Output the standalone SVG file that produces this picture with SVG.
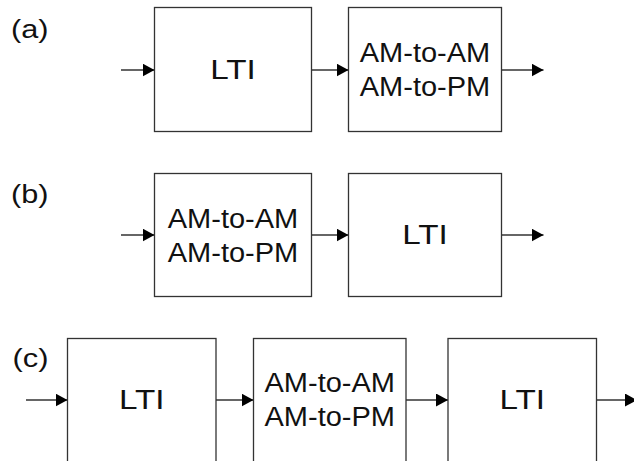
<svg xmlns="http://www.w3.org/2000/svg" width="634" height="461" viewBox="0 0 634 461">
  <defs>
    <marker id="arrow" markerUnits="userSpaceOnUse" markerWidth="13" markerHeight="14" refX="12" refY="6.5" orient="auto">
      <path d="M0,0 L12,6.5 L0,13 Z" fill="#000"/>
    </marker>
    <style>
      .box { fill: #fff; stroke: #333; stroke-width: 1.3; }
      .conn { fill: none; stroke: #333; stroke-width: 1.3; marker-end: url(#arrow); }
      .t { font-family: "Liberation Sans", Arial, sans-serif; font-size: 27px; fill: #111; text-anchor: middle; }
      .lbl { font-family: "Liberation Sans", Arial, sans-serif; font-size: 25px; fill: #111; }
    </style>
  </defs>
  <rect width="634" height="461" fill="#fff"/>

  <g id="labels">
    <text class="lbl" x="11" y="37.7" textLength="37.5" lengthAdjust="spacingAndGlyphs">(a)</text>
    <text class="lbl" x="11" y="202.7" textLength="37.5" lengthAdjust="spacingAndGlyphs">(b)</text>
    <text class="lbl" x="12.5" y="367" textLength="36" lengthAdjust="spacingAndGlyphs">(c)</text>
  </g>

  <g id="connectors">
    <line class="conn" x1="121" y1="70" x2="154.5" y2="70"/>
    <line class="conn" x1="311.5" y1="70" x2="348.5" y2="70"/>
    <line class="conn" x1="501.5" y1="70" x2="543.5" y2="70"/>

    <line class="conn" x1="121" y1="235" x2="154.5" y2="235"/>
    <line class="conn" x1="311.5" y1="235" x2="348.5" y2="235"/>
    <line class="conn" x1="501.5" y1="235" x2="543.5" y2="235"/>

    <line class="conn" x1="26" y1="400" x2="67.5" y2="400"/>
    <line class="conn" x1="216" y1="400" x2="253.5" y2="400"/>
    <line class="conn" x1="406" y1="400" x2="448" y2="400"/>
    <line class="conn" x1="596.5" y1="400" x2="637" y2="400"/>
  </g>

  <g id="a-lti">
    <rect class="box" x="154.5" y="7.5" width="157" height="124"/>
    <text class="t" x="233" y="79" textLength="45.6" lengthAdjust="spacingAndGlyphs">LTI</text>
  </g>
  <g id="a-am">
    <rect class="box" x="348.5" y="7.5" width="153" height="124"/>
    <text class="t" x="425" y="61.5" textLength="130.5" lengthAdjust="spacingAndGlyphs">AM-to-AM</text>
    <text class="t" x="425" y="95.5" textLength="130.5" lengthAdjust="spacingAndGlyphs">AM-to-PM</text>
  </g>

  <g id="b-am">
    <rect class="box" x="154.5" y="173.5" width="157" height="123"/>
    <text class="t" x="233" y="227.5" textLength="130.5" lengthAdjust="spacingAndGlyphs">AM-to-AM</text>
    <text class="t" x="233" y="261.5" textLength="130.5" lengthAdjust="spacingAndGlyphs">AM-to-PM</text>
  </g>
  <g id="b-lti">
    <rect class="box" x="348.5" y="173.5" width="153" height="123"/>
    <text class="t" x="425" y="243.5" textLength="45.6" lengthAdjust="spacingAndGlyphs">LTI</text>
  </g>

  <g id="c-lti1">
    <rect class="box" x="67.5" y="338.5" width="148.5" height="140"/>
    <text class="t" x="141.75" y="409.3" textLength="45.6" lengthAdjust="spacingAndGlyphs">LTI</text>
  </g>
  <g id="c-am">
    <rect class="box" x="253.5" y="338.5" width="152.5" height="140"/>
    <text class="t" x="329.75" y="391.7" textLength="130.5" lengthAdjust="spacingAndGlyphs">AM-to-AM</text>
    <text class="t" x="329.75" y="426" textLength="130.5" lengthAdjust="spacingAndGlyphs">AM-to-PM</text>
  </g>
  <g id="c-lti2">
    <rect class="box" x="448" y="338.5" width="148.5" height="140"/>
    <text class="t" x="522.25" y="409.3" textLength="45.6" lengthAdjust="spacingAndGlyphs">LTI</text>
  </g>
</svg>
